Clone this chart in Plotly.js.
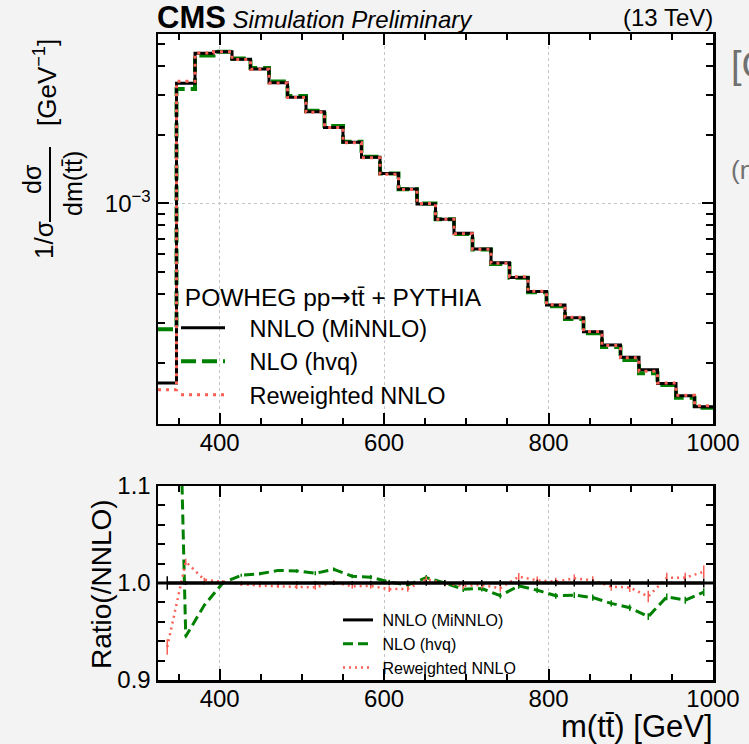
<!DOCTYPE html>
<html>
<head>
<meta charset="utf-8">
<script src="https://cdn.plot.ly/plotly-3.0.1.min.js"></script>
<style>
html,body{margin:0;padding:0;background:#f3f3f3;}
#chart{width:749px;height:744px;}
</style>
</head>
<body>
<div id="chart"></div>
<script>
// ---------------- data ----------------
const binEdges = [325, 347.5, 370, 392.5, 415, 437.5, 460, 482.5, 505, 527.5, 550,
  572.5, 595, 617.5, 640, 662.5, 685, 707.5, 730, 752.5, 775, 797.5, 820, 842.5,
  865, 887.5, 910, 932.5, 955, 977.5, 1000];
// normalised cross section, NNLO (MiNNLO) [GeV^-1]
const nnloValues = [1.63e-4, 3.36e-3, 4.55e-3, 4.62e-3, 4.28e-3, 3.88e-3, 3.38e-3, 2.92e-3,
  2.52e-3, 2.15e-3, 1.85e-3, 1.59e-3, 1.35e-3, 1.155e-3, 0.993e-3, 8.51e-4, 7.38e-4,
  6.30e-4, 5.49e-4, 4.73e-4, 4.10e-4, 3.58e-4, 3.15e-4, 2.73e-4, 2.39e-4, 2.11e-4,
  1.86e-4, 1.62e-4, 1.43e-4, 1.28e-4];
// ratios to NNLO (MiNNLO)
const nloRatio = [1.72, 0.945, 0.977, 1.000, 1.008, 1.0095, 1.013, 1.0125, 1.010, 1.014,
  1.007, 1.006, 1.001, 0.998, 1.0055, 1.000, 0.9936, 0.9943, 0.987, 0.997, 0.9926,
  0.9868, 0.9875, 0.985, 0.979, 0.9745, 0.9653, 0.9857, 0.9823, 0.9905];
const rewRatio = [0.934, 1.022, 1.0034, 1.001, 0.999, 0.9973, 0.997, 0.996, 0.9955, 1.0006,
  0.9966, 0.997, 0.9936, 0.994, 1.0038, 0.9997, 0.997, 0.998, 0.9946, 1.0065, 1.0028,
  1.0014, 1.0048, 1.0028, 0.9963, 0.9953, 0.9861, 1.0055, 1.0055, 1.0116];
const nnloRatio = [1, 1, 1, 1, 1, 1, 1, 1, 1, 1, 1, 1, 1, 1, 1, 1, 1, 1, 1, 1, 1, 1, 1, 1, 1, 1, 1, 1, 1, 1];
// statistical uncertainties on the ratios
const nnloErr = [0.007, 0.002, 0.0015, 0.0015, 0.0015, 0.0015, 0.0015, 0.0018, 0.002, 0.002,
  0.002, 0.0022, 0.0024, 0.0026, 0.0028, 0.003, 0.003, 0.003, 0.0032, 0.0032, 0.0034,
  0.0034, 0.0036, 0.0036, 0.0038, 0.004, 0.004, 0.0042, 0.0044, 0.0046];
const nloErr = [0.01, 0.002, 0.0015, 0.0015, 0.0015, 0.0015, 0.0015, 0.0018, 0.002, 0.002,
  0.002, 0.0022, 0.0024, 0.0026, 0.0028, 0.003, 0.003, 0.003, 0.003, 0.003, 0.003,
  0.003, 0.003, 0.0032, 0.0032, 0.0034, 0.0034, 0.0036, 0.0036, 0.004];
const rewErr = [0.008, 0.003, 0.002, 0.002, 0.002, 0.002, 0.002, 0.0022, 0.0024, 0.0025,
  0.0026, 0.0028, 0.003, 0.003, 0.0032, 0.0034, 0.0034, 0.0036, 0.0036, 0.0038, 0.004,
  0.004, 0.004, 0.0042, 0.0044, 0.0046, 0.006, 0.005, 0.005, 0.0065];
const xTickVals = [400, 600, 800, 1000];
const xTickText = ['400', '600', '800', '1000'];
const yTopTickVals = [0.001];
const yTopTickText = ['10<sup>\u22123</sup>'];
const yTopMinor = [1e-4, 2e-4, 3e-4, 4e-4, 5e-4, 6e-4, 7e-4, 8e-4, 9e-4, 2e-3, 3e-3, 4e-3, 5e-3, 6e-3];
const yRatioTickVals = [0.9, 1.0, 1.1];
const yRatioTickText = ['0.9', '1.0', '1.1'];
const seriesNames = ['NNLO (MiNNLO)', 'NLO (hvq)', 'Reweighted NNLO'];

// ---------------- derived ----------------
const stepY = v => v.concat([v[v.length - 1]]);
const centers = binEdges.slice(0, -1).map((e, i) => (e + binEdges[i + 1]) / 2);
const nloValues = nnloValues.map((v, i) => v * nloRatio[i]);
const rewValues = nnloValues.map((v, i) => v * rewRatio[i]);

// ---------------- style ----------------
const FONT = 'Liberation Sans, Arial, Helvetica, sans-serif';
const BLACK = '#000000', GREEN = '#008000', RED = '#fa6056';
const W = 749, H = 744;
const L = 158, R = 36, T = 34, B = 64;
const PW = W - L - R, PH = H - T - B;
const xp = px => (px - L) / PW;
const yp = py => (H - B - py) / PH;
const PAD3 = '\u00a0\u00a0\u00a0', PAD1 = '\u00a0';

const traces = [
  {x: binEdges, y: stepY(nloValues), xaxis: 'x', yaxis: 'y', mode: 'lines', line: {shape: 'hv', color: GREEN, width: 4, dash: '15px,6px'},
   name: PAD3 + seriesNames[1], legend: 'legend', legendrank: 2},
  {x: binEdges, y: stepY(nnloValues), xaxis: 'x', yaxis: 'y', mode: 'lines', line: {shape: 'hv', color: BLACK, width: 3},
   name: PAD3 + seriesNames[0], legend: 'legend', legendrank: 1},
  {x: binEdges, y: stepY(rewValues), xaxis: 'x', yaxis: 'y', mode: 'lines', line: {shape: 'hv', color: RED, width: 3, dash: '3px,5px'},
   name: PAD3 + seriesNames[2], legend: 'legend', legendrank: 3},
  // ratio panel
  {x: centers, y: nloRatio, xaxis: 'x2', yaxis: 'y2', mode: 'lines', line: {color: GREEN, width: 3, dash: '10px,5px'},
   error_y: {type: 'data', array: nloErr, visible: true, color: GREEN, thickness: 1.5, width: 0},
   name: PAD1 + seriesNames[1], legend: 'legend2', legendrank: 2},
  {x: centers, y: rewRatio, xaxis: 'x2', yaxis: 'y2', mode: 'lines', line: {color: RED, width: 2.5, dash: '2px,4px'},
   error_y: {type: 'data', array: rewErr, visible: true, color: RED, thickness: 1.5, width: 0},
   name: PAD1 + seriesNames[2], legend: 'legend2', legendrank: 3},
  {x: centers, y: nnloRatio, xaxis: 'x2', yaxis: 'y2', mode: 'lines', line: {color: BLACK, width: 3},
   error_y: {type: 'data', array: nnloErr, visible: true, color: BLACK, thickness: 1.5, width: 0},
   name: PAD1 + seriesNames[0], legend: 'legend2', legendrank: 1}
];

const axisCommon = {
  showline: true, linecolor: BLACK, linewidth: 2.5, mirror: 'ticks',
  ticks: 'inside', tickcolor: BLACK, tickwidth: 2,
  tickfont: {family: FONT, size: 24, color: BLACK},
  zeroline: false
};

const xCommon = Object.assign({}, axisCommon, {
  range: [325, 1000], tickmode: 'array', tickvals: xTickVals, ticktext: xTickText, ticklen: 11,
  ticklabelstandoff: -4,
  showgrid: true, gridcolor: '#c4c4c4', griddash: 'dot', gridwidth: 1,
  minor: {tickmode: 'linear', tick0: 0, dtick: 50, ticks: 'inside', ticklen: 6, tickwidth: 2, tickcolor: BLACK, showgrid: false}
});

const layout = {
  width: W, height: H,
  margin: {l: L, r: R, t: T, b: B, pad: 0},
  paper_bgcolor: '#f3f3f3', plot_bgcolor: '#ffffff',
  font: {family: FONT, color: BLACK},
  showlegend: true,
  xaxis: Object.assign({}, xCommon, {domain: [0, 1], anchor: 'y'}),
  yaxis: Object.assign({}, axisCommon, {
    type: 'log', domain: [0.3963, 1], anchor: 'x', range: [-3.968, -2.2575],
    tickmode: 'array', tickvals: yTopTickVals, ticktext: yTopTickText, ticklen: 11,
    showgrid: true, gridcolor: '#c4c4c4', griddash: 'dot', gridwidth: 1,
    minor: {tickmode: 'array', tickvals: yTopMinor, ticks: 'inside', ticklen: 7, tickwidth: 2, tickcolor: BLACK, showgrid: false}
  }),
  xaxis2: Object.assign({}, xCommon, {domain: [0, 1], anchor: 'y2'}),
  yaxis2: Object.assign({}, axisCommon, {
    domain: [0, 0.3003], anchor: 'x2', range: [0.9, 1.1],
    tickmode: 'array', tickvals: yRatioTickVals, ticktext: yRatioTickText, ticklen: 10,
    showgrid: false,
    minor: {tickmode: 'linear', tick0: 0.9, dtick: 0.02, ticks: 'inside', ticklen: 7, tickwidth: 2, tickcolor: BLACK, showgrid: false}
  }),
  legend: {
    x: xp(176), y: yp(274), xanchor: 'left', yanchor: 'top',
    bgcolor: 'rgba(0,0,0,0)', borderwidth: 0,
    font: {family: FONT, size: 23.5, color: BLACK},
    title: {text: PAD1 + 'POWHEG pp<span style="font-family:DejaVu Sans">\u2192</span>tt\u0304 + PYTHIA', font: {family: FONT, size: 24.5, color: BLACK}},
    itemwidth: 44, tracegroupgap: 0
  },
  legend2: {
    x: xp(338), y: yp(603), xanchor: 'left', yanchor: 'top',
    bgcolor: 'rgba(0,0,0,0)', borderwidth: 0,
    font: {family: FONT, size: 16, color: BLACK},
    itemwidth: 30, tracegroupgap: 0
  },
  shapes: [
    // reference line at ratio = 1
    {type: 'line', xref: 'x2 domain', yref: 'y2', x0: 0, x1: 1, y0: 1, y1: 1, line: {color: BLACK, width: 3}, layer: 'above'},
    // fraction bar of the y-axis title
    {type: 'line', xref: 'paper', yref: 'paper', x0: xp(50), x1: xp(50), y0: yp(147), y1: yp(222), line: {color: BLACK, width: 2}}
  ],
  annotations: [
    {xref: 'paper', yref: 'paper', x: xp(155), y: yp(18), xanchor: 'left', yanchor: 'middle', showarrow: false,
     text: '<span style="font-size:31px"><b>CMS</b></span><span style="font-size:24px"> <i>Simulation Preliminary</i></span>',
     font: {family: FONT, size: 24, color: BLACK}},
    {xref: 'paper', yref: 'paper', x: xp(715), y: yp(18), xanchor: 'right', yanchor: 'middle', showarrow: false,
     text: '(13 TeV)', font: {family: FONT, size: 24, color: BLACK}},
    {xref: 'paper', yref: 'paper', x: xp(715), y: yp(726), xanchor: 'right', yanchor: 'middle', showarrow: false,
     text: 'm(tt\u0304) [GeV]', font: {family: FONT, size: 31, color: BLACK}},
    {xref: 'paper', yref: 'paper', x: xp(101), y: yp(584), xanchor: 'center', yanchor: 'middle', showarrow: false, textangle: -90,
     text: 'Ratio(/NNLO)', font: {family: FONT, size: 28, color: BLACK}},
    {xref: 'paper', yref: 'paper', x: xp(44), y: yp(240), xanchor: 'center', yanchor: 'middle', showarrow: false, textangle: -90,
     text: '1/\u03c3', font: {family: FONT, size: 26, color: BLACK}},
    {xref: 'paper', yref: 'paper', x: xp(32), y: yp(179), xanchor: 'center', yanchor: 'middle', showarrow: false, textangle: -90,
     text: 'd\u03c3', font: {family: FONT, size: 25, color: BLACK}},
    {xref: 'paper', yref: 'paper', x: xp(73), y: yp(184), xanchor: 'center', yanchor: 'middle', showarrow: false, textangle: -90,
     text: 'dm(tt\u0304)', font: {family: FONT, size: 25, color: BLACK}},
    {xref: 'paper', yref: 'paper', x: xp(45), y: yp(83), xanchor: 'center', yanchor: 'middle', showarrow: false, textangle: -90,
     text: '[GeV<sup>\u22121</sup>]', font: {family: FONT, size: 26, color: BLACK}},
    {xref: 'paper', yref: 'paper', x: xp(729), y: yp(65), xanchor: 'left', yanchor: 'middle', showarrow: false,
     text: '[GeV]', font: {family: FONT, size: 38, color: '#707070'}},
    {xref: 'paper', yref: 'paper', x: xp(729), y: yp(170), xanchor: 'left', yanchor: 'middle', showarrow: false,
     text: '(normalized)', font: {family: FONT, size: 26, color: '#707070'}}
  ]
};

Plotly.newPlot('chart', traces, layout, {displayModeBar: false, staticPlot: true});
</script>
</body>
</html>
